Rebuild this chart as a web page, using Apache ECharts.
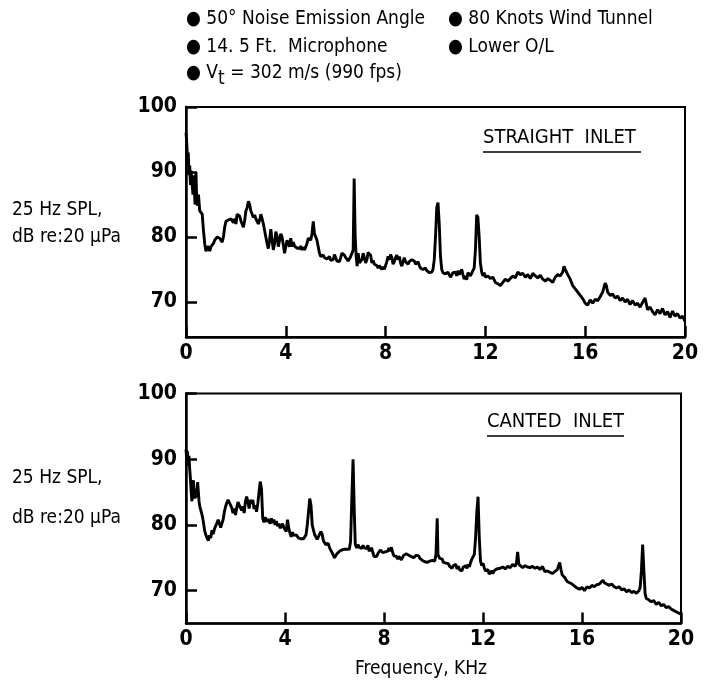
<!DOCTYPE html>
<html>
<head>
<meta charset="utf-8">
<script src="https://cdn.jsdelivr.net/npm/echarts@6/dist/echarts.min.js"></script>
<style>
html,body{margin:0;padding:0;background:#fff;}
#c{width:704px;height:686px;}
</style>
</head>
<body>
<div id="c"></div>
<script>
// ---- Data ----
const xTicks = [0, 4, 8, 12, 16, 20];
const yTicks = [70, 80, 90, 100];

const topFreq = [0.00,0.03,0.06,0.09,0.12,0.15,0.18,0.20,0.24,0.28,0.32,0.36,0.40,0.42,0.45,0.50,0.55,0.60,0.65,0.70,0.75,0.80,0.85,0.90,0.95,1.00,1.05,1.10,1.15,1.20,1.25,1.30,1.35,1.40,1.45,1.50,1.55,1.60,1.65,1.70,1.75,1.80,1.85,1.90,1.95,2.00,2.05,2.10,2.15,2.20,2.25,2.30,2.35,2.40,2.45,2.50,2.55,2.60,2.65,2.70,2.75,2.80,2.85,2.90,2.95,3.00,3.05,3.10,3.15,3.20,3.25,3.30,3.35,3.40,3.45,3.50,3.55,3.60,3.65,3.70,3.75,3.80,3.85,3.90,3.95,4.00,4.05,4.10,4.15,4.20,4.25,4.30,4.35,4.40,4.45,4.50,4.55,4.60,4.65,4.70,4.75,4.80,4.85,4.90,4.95,5.00,5.05,5.10,5.15,5.20,5.25,5.30,5.35,5.40,5.45,5.50,5.55,5.60,5.65,5.70,5.75,5.80,5.85,5.90,5.95,6.00,6.05,6.10,6.15,6.20,6.25,6.30,6.35,6.40,6.45,6.50,6.55,6.60,6.65,6.70,6.74,6.78,6.82,6.86,6.90,6.95,7.00,7.05,7.10,7.15,7.20,7.25,7.30,7.35,7.40,7.45,7.50,7.55,7.60,7.65,7.70,7.75,7.80,7.85,7.90,7.95,8.00,8.05,8.10,8.15,8.20,8.25,8.30,8.35,8.40,8.45,8.50,8.55,8.60,8.65,8.70,8.75,8.80,8.85,8.90,8.95,9.00,9.05,9.10,9.15,9.20,9.25,9.30,9.35,9.40,9.45,9.50,9.55,9.60,9.65,9.70,9.75,9.80,9.85,9.90,9.95,10.00,10.05,10.10,10.15,10.20,10.25,10.30,10.35,10.40,10.45,10.50,10.55,10.60,10.65,10.70,10.75,10.80,10.85,10.90,10.95,11.00,11.05,11.10,11.15,11.20,11.25,11.30,11.35,11.40,11.45,11.50,11.55,11.60,11.65,11.70,11.75,11.80,11.85,11.90,11.95,12.00,12.10,12.20,12.30,12.40,12.50,12.60,12.70,12.80,12.90,13.00,13.10,13.20,13.30,13.40,13.50,13.60,13.70,13.80,13.90,14.00,14.10,14.20,14.30,14.40,14.50,14.60,14.70,14.80,14.90,15.00,15.10,15.15,15.20,15.30,15.40,15.50,15.60,15.70,15.80,15.90,16.00,16.10,16.20,16.30,16.40,16.50,16.60,16.70,16.80,16.85,16.90,17.00,17.10,17.20,17.30,17.40,17.50,17.60,17.70,17.80,17.90,18.00,18.10,18.20,18.30,18.40,18.50,18.60,18.70,18.80,18.90,19.00,19.10,19.20,19.30,19.40,19.50,19.60,19.70,19.80,19.90,20.00];
const topSpl = [96.0,94.5,92.0,93.0,89.5,91.0,88.0,90.2,90.2,86.5,89.5,85.0,90.0,87.0,84.8,86.5,84.0,83.8,83.5,81.0,79.0,77.8,77.5,78.6,77.8,78.5,78.2,79.0,79.5,79.2,80.0,80.2,79.8,79.5,79.2,80.0,81.5,82.4,82.2,82.6,82.3,82.8,82.5,82.2,82.8,82.0,83.5,83.8,83.2,82.5,82.0,81.5,82.5,84.0,84.5,85.5,85.0,84.0,83.5,83.0,83.4,82.8,82.5,82.0,82.6,83.5,82.8,82.0,81.0,80.0,79.0,78.2,79.5,81.2,79.5,78.0,79.0,80.8,80.2,78.5,79.5,80.5,80.0,78.8,77.5,77.8,79.5,79.0,78.5,79.8,78.5,79.2,78.6,78.8,78.3,78.5,78.2,78.6,78.0,78.4,78.0,78.5,79.0,79.8,80.0,79.5,80.5,82.4,80.5,80.0,79.5,78.5,77.5,77.0,76.8,77.2,76.8,76.9,76.6,76.3,77.0,76.4,76.2,76.5,77.3,76.8,76.3,76.0,76.2,76.8,77.5,77.8,77.2,76.8,76.5,76.3,76.6,77.0,77.2,78.0,89.0,80.0,77.0,75.5,77.5,76.0,75.8,76.5,77.5,76.8,76.0,76.5,77.6,77.5,77.2,76.0,76.4,75.8,76.0,75.6,75.2,75.6,75.3,75.0,75.4,75.0,75.3,76.2,77.0,76.5,77.3,76.8,75.8,76.2,76.8,77.2,76.5,77.0,76.0,75.5,76.2,76.8,76.2,76.5,75.8,76.2,76.0,76.5,76.8,76.3,75.8,76.0,76.2,75.6,75.2,75.5,75.0,74.8,75.2,74.8,74.6,74.5,74.7,74.6,75.0,76.5,80.0,84.5,85.3,82.0,77.0,75.0,74.5,74.8,74.3,74.0,74.6,74.3,73.8,74.0,74.5,74.2,74.6,74.0,74.8,74.2,74.6,75.0,74.2,73.5,74.0,73.4,74.5,74.8,74.0,74.3,74.8,75.2,78.0,83.4,83.0,80.0,76.0,74.6,74.0,74.5,73.8,74.0,73.6,73.8,73.0,72.8,72.5,73.0,73.5,73.2,73.6,74.0,73.7,74.6,74.2,74.4,73.8,74.2,73.6,74.4,74.0,73.7,74.1,73.5,73.2,73.6,73.3,73.0,73.8,74.2,74.0,74.6,75.5,75.0,74.2,73.5,72.5,72.0,71.5,71.0,70.5,69.8,69.5,70.3,69.8,70.4,70.2,70.8,71.5,72.9,72.5,71.5,71.0,71.2,70.6,70.9,70.2,70.6,70.0,70.4,69.6,70.2,69.5,69.8,69.2,69.9,70.6,68.8,69.2,68.5,68.0,68.8,68.2,69.0,68.0,68.5,67.6,68.6,67.8,68.2,67.5,67.8,67.0];

const botFreq = [0.00,0.03,0.06,0.09,0.12,0.15,0.18,0.21,0.24,0.27,0.30,0.33,0.36,0.40,0.43,0.47,0.50,0.53,0.56,0.60,0.65,0.70,0.75,0.80,0.85,0.90,0.95,1.00,1.05,1.10,1.15,1.20,1.25,1.30,1.35,1.40,1.45,1.50,1.55,1.60,1.65,1.70,1.75,1.80,1.85,1.90,1.95,2.00,2.05,2.10,2.15,2.20,2.25,2.30,2.35,2.40,2.45,2.50,2.55,2.60,2.65,2.70,2.75,2.80,2.85,2.90,2.95,3.00,3.05,3.10,3.15,3.20,3.25,3.30,3.35,3.40,3.45,3.50,3.55,3.60,3.65,3.70,3.75,3.80,3.85,3.90,3.95,4.00,4.05,4.10,4.15,4.20,4.25,4.30,4.35,4.40,4.45,4.50,4.55,4.60,4.65,4.70,4.75,4.80,4.85,4.90,4.95,5.00,5.05,5.10,5.15,5.20,5.25,5.30,5.35,5.40,5.45,5.50,5.55,5.60,5.65,5.70,5.75,5.80,5.85,5.90,5.95,6.00,6.05,6.10,6.15,6.20,6.25,6.30,6.40,6.50,6.60,6.65,6.70,6.75,6.80,6.84,6.90,6.95,7.00,7.05,7.10,7.15,7.20,7.25,7.30,7.35,7.40,7.45,7.50,7.55,7.60,7.65,7.70,7.75,7.80,7.85,7.90,7.95,8.00,8.05,8.10,8.15,8.20,8.25,8.30,8.35,8.40,8.45,8.50,8.55,8.60,8.65,8.70,8.75,8.80,8.85,8.90,8.95,9.00,9.05,9.10,9.15,9.20,9.25,9.30,9.35,9.40,9.45,9.50,9.55,9.60,9.65,9.70,9.75,9.80,9.85,9.90,9.95,10.00,10.05,10.10,10.15,10.18,10.25,10.30,10.35,10.40,10.45,10.50,10.55,10.60,10.65,10.70,10.75,10.80,10.85,10.90,10.95,11.00,11.05,11.10,11.15,11.20,11.25,11.30,11.35,11.40,11.45,11.50,11.55,11.60,11.65,11.70,11.75,11.80,11.85,11.90,11.95,12.00,12.05,12.10,12.15,12.20,12.25,12.30,12.35,12.40,12.45,12.50,12.55,12.60,12.70,12.80,12.90,13.00,13.10,13.20,13.30,13.35,13.40,13.45,13.50,13.60,13.70,13.80,13.90,14.00,14.10,14.20,14.30,14.40,14.50,14.60,14.70,14.80,14.90,15.00,15.05,15.10,15.15,15.20,15.30,15.40,15.50,15.60,15.70,15.80,15.90,16.00,16.10,16.20,16.30,16.40,16.50,16.60,16.70,16.85,16.90,17.00,17.10,17.20,17.30,17.40,17.50,17.60,17.70,17.80,17.90,18.00,18.10,18.20,18.30,18.35,18.40,18.45,18.50,18.55,18.60,18.70,18.80,18.90,19.00,19.10,19.20,19.30,19.40,19.50,19.60,19.70,19.80,19.90,20.00];
const botSpl = [91.5,90.0,91.2,89.0,90.5,88.5,87.0,85.0,83.6,85.5,86.8,85.0,84.0,85.5,84.2,86.5,85.0,83.5,82.8,82.5,81.5,80.5,79.2,78.5,78.0,77.6,78.4,78.0,79.2,78.6,79.4,79.7,80.3,80.8,80.2,79.6,79.8,80.8,82.0,82.8,83.4,83.8,83.5,83.0,82.6,81.8,82.5,81.5,82.6,83.5,83.0,82.6,82.2,82.8,81.8,83.5,84.3,83.6,82.5,83.8,83.2,83.8,82.4,83.0,82.0,83.2,85.0,86.6,85.5,81.0,80.4,81.2,80.5,80.9,80.7,80.2,81.0,80.3,80.8,80.0,80.6,79.8,80.2,79.5,79.2,80.2,79.6,79.9,79.0,80.8,79.5,78.8,78.2,78.9,78.4,78.7,78.5,78.3,78.0,78.1,77.9,78.2,77.9,77.8,78.5,80.0,82.0,84.0,83.0,80.0,79.2,78.5,78.8,77.8,78.2,78.5,79.0,78.6,77.6,77.4,77.0,76.8,77.2,76.5,76.2,75.8,75.4,75.0,74.9,75.6,75.8,76.0,75.7,76.2,76.3,76.3,76.3,77.5,84.0,90.0,82.0,77.0,76.5,77.0,76.6,76.9,76.4,76.9,76.5,76.8,76.4,76.9,76.0,76.2,76.5,75.8,75.2,75.0,75.2,75.6,75.8,76.2,76.0,75.8,75.5,75.9,75.6,76.0,76.5,76.0,76.6,75.8,75.3,75.0,75.2,74.8,75.2,74.9,74.7,75.0,75.4,75.2,75.6,75.8,75.4,75.6,75.2,75.3,75.0,75.3,75.4,75.1,75.3,74.9,74.8,74.6,74.7,74.4,74.6,74.3,74.2,74.5,74.3,74.6,74.8,74.5,75.5,81.0,75.5,74.9,74.6,74.8,74.3,74.5,74.2,73.9,74.1,73.7,73.9,73.4,73.8,73.5,74.0,73.3,73.7,73.2,73.5,73.0,73.6,73.3,73.8,73.4,74.0,73.6,74.3,74.8,74.5,75.5,78.0,82.0,84.3,78.0,74.5,73.8,74.2,73.5,73.0,72.8,73.2,72.5,72.4,73.0,72.6,73.0,72.8,73.3,73.0,73.4,73.6,73.3,73.7,73.5,74.0,73.7,74.2,75.9,74.0,73.8,73.5,73.8,73.6,73.5,73.7,73.4,73.6,73.2,73.7,72.9,73.0,72.8,72.6,72.9,73.2,73.0,74.3,73.2,72.4,72.0,71.4,71.2,71.0,70.7,70.4,70.2,70.5,70.0,70.6,70.4,70.8,70.6,70.9,71.0,71.6,71.2,71.0,70.8,71.0,70.6,70.4,70.6,70.1,70.3,69.8,70.1,69.7,69.9,69.6,70.0,70.5,73.0,77.0,73.0,69.5,68.8,68.6,68.3,68.5,67.9,68.2,67.7,67.9,67.4,67.6,67.2,67.0,66.8,66.6,66.4];

// ---- Chart ----
const FONT = "'DejaVu Sans Condensed','Liberation Sans Narrow',sans-serif";
const zip = (a, b) => a.map((v, i) => [v, b[i]]);

function xAxisCfg(gi) {
  return {
    type: 'value', gridIndex: gi, min: 0, max: 20, interval: 4,
    axisLine: { show: true, lineStyle: { color: '#000', width: 2.5 } },
    axisTick: { show: true, inside: true, length: 11, lineStyle: { color: '#000', width: 2.5 } },
    axisLabel: { color: '#000', fontFamily: FONT, fontWeight: 'bold', fontSize: 21, margin: 6 },
    splitLine: { show: false }
  };
}
function yAxisCfg(gi, min) {
  return {
    type: 'value', gridIndex: gi, min: min, max: 100,
    axisLine: { show: true, lineStyle: { color: '#000', width: 2.5 } },
    axisTick: { show: true, inside: true, length: 11, customValues: yTicks, lineStyle: { color: '#000', width: 2.5 } },
    axisLabel: { color: '#000', fontFamily: FONT, fontWeight: 'bold', fontSize: 21, margin: 9, customValues: yTicks },
    splitLine: { show: false }
  };
}

const chart = echarts.init(document.getElementById('c'), null, { renderer: 'canvas' });
const txt = { fontFamily: FONT, fontSize: 19, fill: '#000' };
chart.setOption({
  animation: false,
  backgroundColor: '#fff',
  grid: [
    { left: 186, top: 107, width: 499, height: 230, show: true, borderColor: '#000', borderWidth: 2, backgroundColor: 'transparent' },
    { left: 186, top: 393.5, width: 495, height: 230, show: true, borderColor: '#000', borderWidth: 2, backgroundColor: 'transparent' }
  ],
  xAxis: [xAxisCfg(0), xAxisCfg(1)],
  yAxis: [yAxisCfg(0, 64.6), yAxisCfg(1, 65)],
  series: [
    { type: 'line', xAxisIndex: 0, yAxisIndex: 0, data: zip(topFreq, topSpl), showSymbol: false, lineStyle: { color: '#000', width: 2.9 }, z: 5 },
    { type: 'line', xAxisIndex: 1, yAxisIndex: 1, data: zip(botFreq, botSpl), showSymbol: false, lineStyle: { color: '#000', width: 2.9 }, z: 5 }
  ],
  graphic: [
    { type: 'text', left: 186, top: 10, style: Object.assign({ text: '● 50° Noise Emission Angle' }, txt) },
    { type: 'text', left: 448, top: 10, style: Object.assign({ text: '● 80 Knots Wind Tunnel' }, txt) },
    { type: 'text', left: 186, top: 38, style: Object.assign({ text: '● 14. 5 Ft.  Microphone' }, txt) },
    { type: 'text', left: 448, top: 38, style: Object.assign({ text: '● Lower O/L' }, txt) },
    { type: 'text', left: 186, top: 64, style: Object.assign({
        text: '● V{sub|t} = 302 m/s (990 fps)',
        rich: { sub: { fontFamily: FONT, fontSize: 19, padding: [12, 0, 0, 0], fill: '#000' } }
      }, txt) },
    { type: 'text', left: 12, top: 201, style: Object.assign({ text: '25 Hz SPL,' }, txt) },
    { type: 'text', left: 12, top: 228, style: Object.assign({ text: 'dB re:20 μPa' }, txt) },
    { type: 'text', left: 12, top: 469, style: Object.assign({ text: '25 Hz SPL,' }, txt) },
    { type: 'text', left: 12, top: 509, style: Object.assign({ text: 'dB re:20 μPa' }, txt) },
    { type: 'text', left: 483, top: 128, style: Object.assign({}, txt, { text: 'STRAIGHT  INLET', fontSize: 20 }) },
    { type: 'line', shape: { x1: 483, y1: 152, x2: 641, y2: 152 }, style: { stroke: '#000', lineWidth: 1.5 } },
    { type: 'text', left: 487, top: 412, style: Object.assign({}, txt, { text: 'CANTED  INLET', fontSize: 20 }) },
    { type: 'line', shape: { x1: 487, y1: 436, x2: 624, y2: 436 }, style: { stroke: '#000', lineWidth: 1.5 } },
    { type: 'text', left: 355, top: 660, style: Object.assign({ text: 'Frequency, KHz' }, txt) }
  ]
});
</script>
</body>
</html>
